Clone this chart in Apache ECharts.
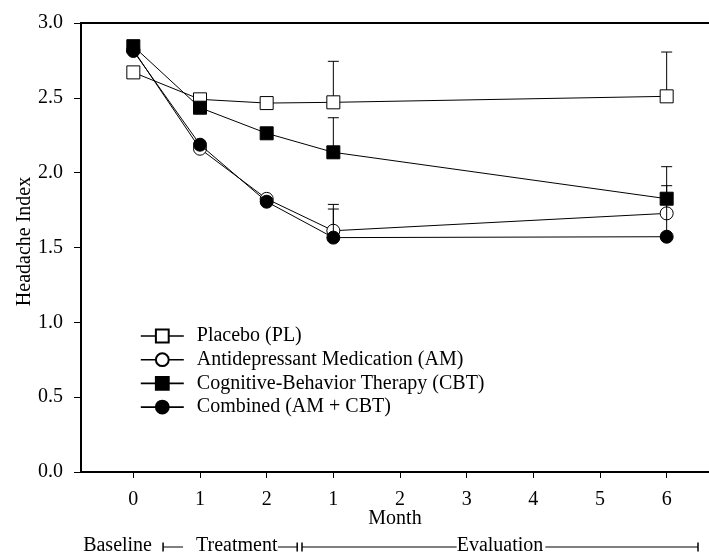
<!DOCTYPE html>
<html>
<head>
<meta charset="utf-8">
<script src="https://cdn.jsdelivr.net/npm/echarts@6/dist/echarts.min.js"></script>
<style>
html,body{margin:0;padding:0;background:#fff;}
#chart{width:709px;height:557px;}
</style>
</head>
<body>
<div id="chart"></div>
<script>
// ---- data ----
const tickPositions = [0, 1, 2, 3, 4, 5, 6, 7, 8];
const tickLabels = ['0', '1', '2', '1', '2', '3', '4', '5', '6'];
const xPositions = [0, 1, 2, 3, 8];

const seriesNames = ['Placebo (PL)', 'Antidepressant Medication (AM)', 'Cognitive-Behavior Therapy (CBT)', 'Combined (AM + CBT)'];
const plValues  = [2.67, 2.49, 2.465, 2.47, 2.51];
const amValues  = [2.82, 2.16, 1.825, 1.612, 1.728];
const cbtValues = [2.845, 2.434, 2.263, 2.136, 1.826];
const comValues = [2.813, 2.187, 1.806, 1.566, 1.572];

// upper error-bar ends (null = none shown)
const plErrTop  = [null, null, null, 2.744, 2.806];
const amErrTop  = [null, null, null, 1.788, 1.913];
const cbtErrTop = [null, null, null, 2.367, 2.04];
const comErrTop = [null, null, null, 1.757, 1.80];

const phaseLabels = ['Baseline', 'Treatment', 'Evaluation'];

const FONT = 'Liberation Serif';
const FS = 20;

function pairs(vals) { return xPositions.map((x, i) => [x, vals[i]]); }
function errPairs(vals, tops) {
  const out = [];
  xPositions.forEach((x, i) => { if (tops[i] != null) out.push([x, vals[i], tops[i]]); });
  return out;
}
function errRender(params, api) {
  const x = api.value(0), y = api.value(1), t = api.value(2);
  const p0 = api.coord([x, y]), p1 = api.coord([x, t]);
  const hw = 5.5;
  return {
    type: 'group',
    children: [
      { type: 'line', shape: { x1: p0[0], y1: p0[1], x2: p1[0], y2: p1[1] }, style: { stroke: '#000', lineWidth: 1 } },
      { type: 'line', shape: { x1: p1[0] - hw, y1: p1[1], x2: p1[0] + hw, y2: p1[1] }, style: { stroke: '#000', lineWidth: 1 } }
    ]
  };
}
function lineSeries(name, vals, symbol, filled, z) {
  return {
    name: name, type: 'line', data: pairs(vals), symbol: symbol, symbolSize: 13,
    showAllSymbol: true, z: z, animation: false,
    lineStyle: { color: '#000', width: 1 },
    itemStyle: { color: filled ? '#000' : '#fff', borderColor: '#000', borderWidth: 1, opacity: 1 },
    emphasis: { disabled: true }
  };
}
function errSeries(name, vals, tops, z) {
  return { name: name, type: 'custom', renderItem: errRender, data: errPairs(vals, tops), z: z, animation: false, silent: true };
}

const chart = echarts.init(document.getElementById('chart'), null, { renderer: 'canvas' });
const xMin = -0.785, xMax = 8.635;

chart.setOption({
  backgroundColor: '#fff',
  animation: false,
  textStyle: { fontFamily: FONT, color: '#000' },
  grid: { left: 81, right: 0, top: 23, bottom: 85, containLabel: false },
  legend: {
    orient: 'vertical', left: 140, top: 326, padding: 0,
    data: seriesNames,
    itemWidth: 43, itemHeight: 16, itemGap: 3.7,
    textStyle: { fontFamily: FONT, fontSize: FS, color: '#000', lineHeight: 20, padding: [0, 0, 0, 8] },
    lineStyle: { width: 1.6 },
    selectedMode: false
  },
  xAxis: [{
    type: 'value', min: xMin, max: xMax, position: 'bottom',
    name: 'Month', nameLocation: 'middle', nameGap: 37, nameMoveOverlap: false,
    nameTextStyle: { fontFamily: FONT, fontSize: FS, color: '#000' },
    axisLine: { show: true, onZero: false, lineStyle: { color: '#000', width: 2 } },
    axisTick: { show: true, inside: false, length: 6, customValues: tickPositions, lineStyle: { color: '#000', width: 1 } },
    axisLabel: { show: true, margin: 18, customValues: tickPositions, fontFamily: FONT, fontSize: FS, color: '#000',
      formatter: function (v) { const i = tickPositions.indexOf(Math.round(v)); return i >= 0 ? tickLabels[i] : ''; } },
    splitLine: { show: false }
  }, {
    type: 'value', min: xMin, max: xMax, position: 'top',
    axisLine: { show: true, onZero: false, lineStyle: { color: '#000', width: 2 } },
    axisTick: { show: false }, axisLabel: { show: false }, splitLine: { show: false }
  }],
  yAxis: {
    type: 'value', min: 0, max: 3, interval: 0.5,
    name: 'Headache Index', nameLocation: 'middle', nameGap: 46, nameMoveOverlap: false,
    nameTextStyle: { fontFamily: FONT, fontSize: FS, color: '#000', padding: [0, 0, 0, 12] },
    axisLine: { show: true, onZero: false, lineStyle: { color: '#000', width: 2 } },
    axisTick: { show: true, inside: false, length: 7, lineStyle: { color: '#000', width: 1 } },
    axisLabel: { margin: 18, fontFamily: FONT, fontSize: FS, color: '#000', formatter: v => v.toFixed(1) },
    splitLine: { show: false }
  },
  series: [
    errSeries('pl-err', plValues, plErrTop, 1),
    errSeries('am-err', amValues, amErrTop, 1),
    errSeries('cbt-err', cbtValues, cbtErrTop, 1),
    errSeries('com-err', comValues, comErrTop, 3),
    lineSeries(seriesNames[0], plValues, 'rect', false, 5),
    lineSeries(seriesNames[1], amValues, 'circle', false, 2),
    lineSeries(seriesNames[2], cbtValues, 'rect', true, 6),
    lineSeries(seriesNames[3], comValues, 'circle', true, 6)
  ]
});

// phase annotations below the axis, placed through the x scale
function px(v) { return chart.convertToPixel({ xAxisIndex: 0 }, v); }
const yAnn = 547;
const txt = (t, x, align) => ({ type: 'text', x: x, y: yAnn - 1, style: { text: t, fontFamily: FONT, fontSize: FS, fill: '#000', align: align, verticalAlign: 'middle' } });
const seg = (x1, x2) => ({ type: 'line', shape: { x1: x1, y1: yAnn, x2: x2, y2: yAnn }, style: { stroke: '#000', lineWidth: 1 } });
const bar = (x) => ({ type: 'line', shape: { x1: x, y1: yAnn - 4.5, x2: x, y2: yAnn + 4.5 }, style: { stroke: '#000', lineWidth: 1.5 } });

const tS = px(0.446), tE = px(2.458), eS = px(2.53), eE = px(8.47);
chart.setOption({
  graphic: [
    txt(phaseLabels[0], px(0.28), 'right'),
    bar(tS), seg(tS, px(0.746)),
    txt(phaseLabels[1], px(0.94), 'left'),
    seg(px(2.17), tE), bar(tE),
    bar(eS), seg(eS, px(4.85)),
    txt(phaseLabels[2], px(5.5), 'center'),
    seg(px(6.18), eE), bar(eE)
  ]
});
</script>
</body>
</html>
